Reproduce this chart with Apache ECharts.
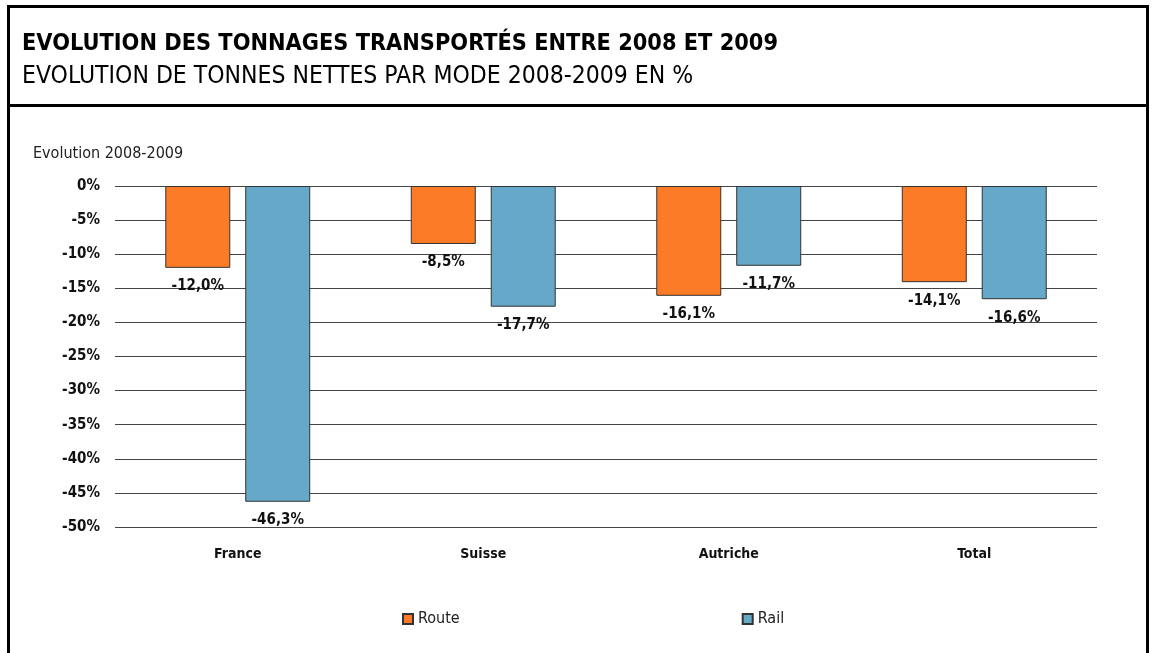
<!DOCTYPE html>
<html>
<head>
<meta charset="utf-8">
<script src="https://cdn.jsdelivr.net/npm/echarts@6/dist/echarts.min.js"></script>
<style>
  html, body { margin: 0; padding: 0; background: #fff; }
  #chart { width: 1156px; height: 653px; }
</style>
</head>
<body>
<div id="chart"></div>
<script>
var categories = ['France', 'Suisse', 'Autriche', 'Total'];
var routeValues = [-12.0, -8.5, -16.1, -14.1];
var railValues = [-46.3, -17.7, -11.7, -16.6];
var seriesNames = ['Route', 'Rail'];

var fontFam = '"DejaVu Sans Condensed", "DejaVu Sans", sans-serif';

function pct(v) {
    return v.toFixed(1).replace('.', ',') + '%';
}

var chart = echarts.init(document.getElementById('chart'));

var labelOpt = {
    show: true,
    position: 'bottom',
    distance: 11,
    color: '#111',
    fontFamily: fontFam,
    fontWeight: 'bold',
    fontSize: 15,
    formatter: function (p) { return pct(p.value); }
};

chart.setOption({
    animation: false,
    backgroundColor: '#fff',
    graphic: [
        { type: 'rect', shape: { x: 8.5, y: 6.5, width: 1139, height: 680 },
          style: { fill: 'none', stroke: '#000', lineWidth: 3 } },
        { type: 'line', shape: { x1: 8, y1: 105.5, x2: 1148, y2: 105.5 },
          style: { stroke: '#000', lineWidth: 3 } },
        { type: 'text', left: 22, top: 32,
          style: { text: 'EVOLUTION DES TONNAGES TRANSPORTÉS ENTRE 2008 ET 2009',
                   font: 'bold 23.3px ' + fontFam, fill: '#000' } },
        { type: 'text', left: 22, top: 64,
          style: { text: 'EVOLUTION DE TONNES NETTES PAR MODE 2008-2009 EN %',
                   font: '24.5px ' + fontFam, fill: '#000' } },
        { type: 'text', left: 33, top: 146,
          style: { text: 'Evolution 2008-2009', font: '16px ' + fontFam, fill: '#222' } }
    ],
    grid: { left: 115, right: 59, top: 186, bottom: 126, containLabel: false },
    legend: {
        data: seriesNames,
        icon: 'rect',
        left: 397, top: 606,
        itemWidth: 10, itemHeight: 10, itemGap: 282,
        textStyle: { fontFamily: fontFam, fontSize: 16, color: '#222' }
    },
    xAxis: {
        type: 'category',
        data: categories,
        axisLine: { show: false },
        axisTick: { show: false },
        axisLabel: { fontFamily: fontFam, fontWeight: 'bold', fontSize: 14, color: '#111', margin: 20 }
    },
    yAxis: {
        type: 'value',
        min: -50, max: 0, interval: 5,
        axisLine: { show: false },
        axisTick: { show: false },
        axisLabel: {
            fontFamily: fontFam, fontWeight: 'bold', fontSize: 15, color: '#111', margin: 15,
            formatter: function (v) { return v + '%'; }
        },
        splitLine: { lineStyle: { color: '#444', width: 1 } }
    },
    series: [
        { name: seriesNames[0], type: 'bar', data: routeValues,
          barWidth: 65, barGap: '23%',
          itemStyle: { color: '#FB7B27', borderColor: '#333', borderWidth: 1 },
          label: labelOpt },
        { name: seriesNames[1], type: 'bar', data: railValues,
          barWidth: 65,
          itemStyle: { color: '#66A8C7', borderColor: '#333', borderWidth: 1 },
          label: labelOpt }
    ]
});
</script>
</body>
</html>
